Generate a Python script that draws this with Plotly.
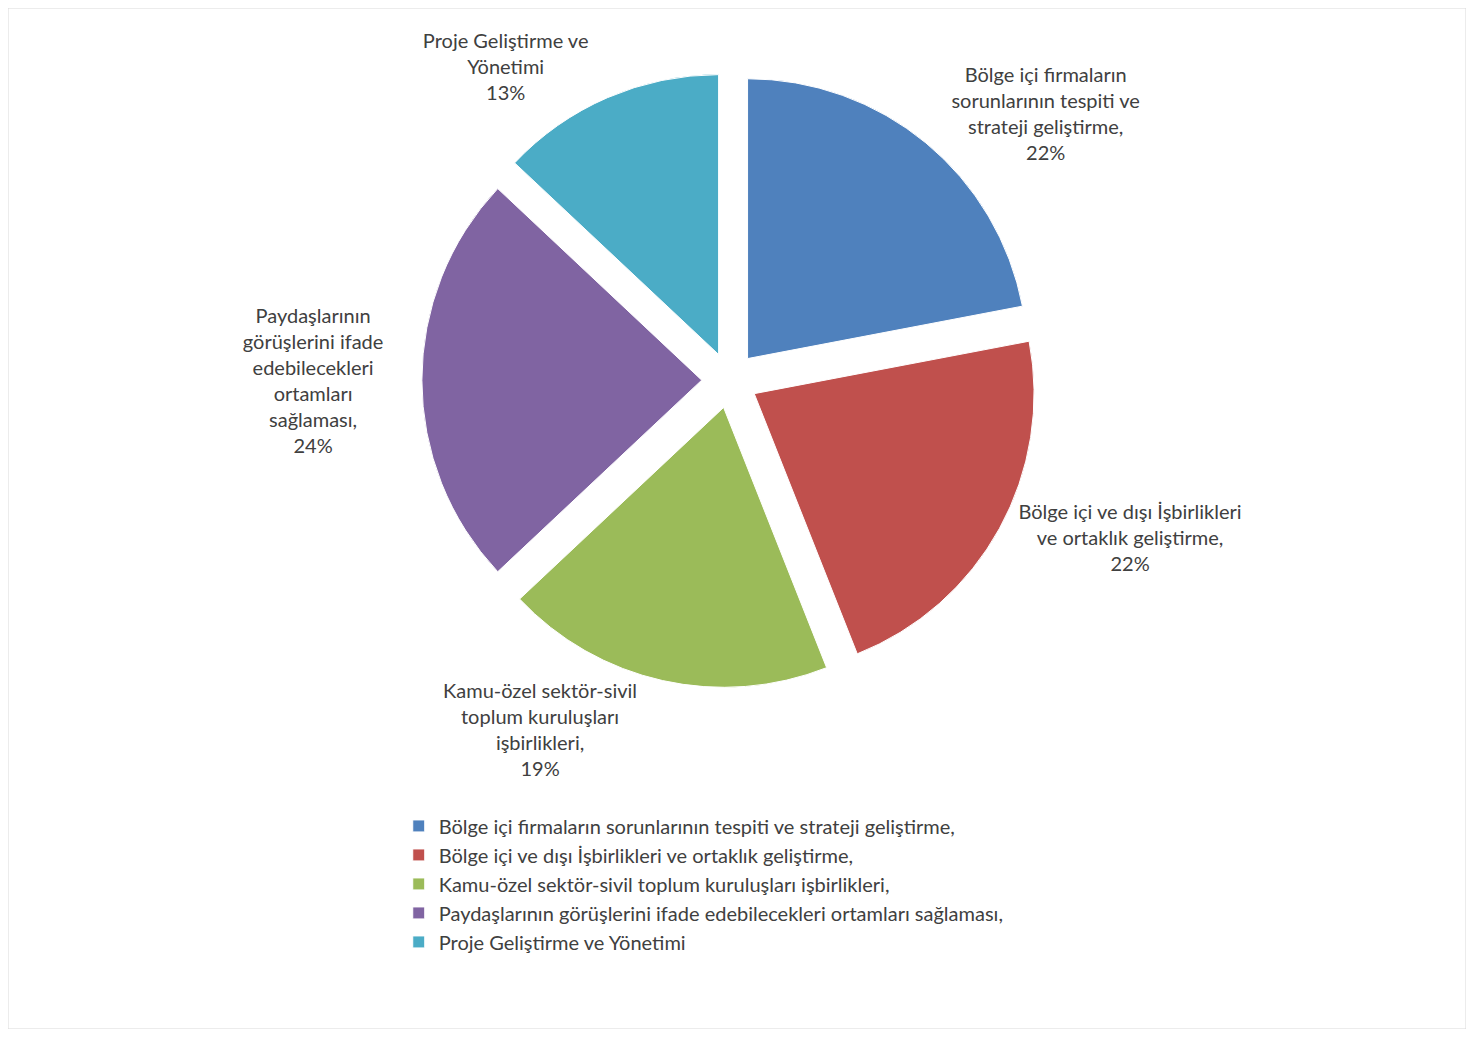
import plotly.graph_objects as go

categories = [
    "Bölge içi firmaların sorunlarının tespiti ve strateji geliştirme,",
    "Bölge içi ve dışı İşbirlikleri ve ortaklık geliştirme,",
    "Kamu-özel sektör-sivil toplum kuruluşları işbirlikleri,",
    "Paydaşlarının görüşlerini ifade edebilecekleri ortamları sağlaması,",
    "Proje Geliştirme ve Yönetimi",
]
label_wrapped = [
    "Bölge içi firmaların<br>sorunlarının tespiti ve<br>strateji geliştirme,",
    "Bölge içi ve dışı İşbirlikleri<br>ve ortaklık geliştirme,",
    "Kamu-özel sektör-sivil<br>toplum kuruluşları<br>işbirlikleri,",
    "Paydaşlarının<br>görüşlerini ifade<br>edebilecekleri<br>ortamları<br>sağlaması,",
    "Proje Geliştirme ve<br>Yönetimi",
]
values = [22, 22, 19, 24, 13]
colors = ["#4F81BD", "#C0504D", "#9BBB59", "#8064A2", "#4BACC6"]

font_family = "Lato, 'Open Sans', sans-serif"
text_color = "#404040"

fig = go.Figure(
    go.Pie(
        labels=categories,
        values=values,
        customdata=label_wrapped,
        texttemplate="%{customdata}<br>%{percent:.0%}",
        textposition="outside",
        textfont=dict(size=20, color=text_color, family=font_family),
        marker=dict(colors=colors, line=dict(color="white", width=1)),
        pull=[0.1] * 5,
        sort=False,
        direction="clockwise",
        rotation=0,
        automargin=False,
        domain=dict(x=[0.1, 0.89], y=[0.334, 0.937]),
        hoverinfo="label+percent",
    )
)

fig.update_layout(
    width=1458,
    height=1021,
    autosize=False,
    paper_bgcolor="white",
    plot_bgcolor="white",
    margin=dict(l=0, r=0, t=0, b=0, autoexpand=False),
    font=dict(family=font_family, size=20, color=text_color),
    showlegend=True,
    legend=dict(
        x=0.268,
        y=0.218,
        xanchor="left",
        yanchor="top",
        orientation="v",
        font=dict(size=20, color=text_color, family=font_family),
        itemwidth=30,
    ),
    shapes=[
        dict(
            type="rect", xref="paper", yref="paper",
            x0=0, y0=0, x1=1, y1=1,
            line=dict(color="#D9D9D9", width=1),
            fillcolor="rgba(0,0,0,0)",
            layer="below",
        )
    ],
)

fig.write_html("out.html")
